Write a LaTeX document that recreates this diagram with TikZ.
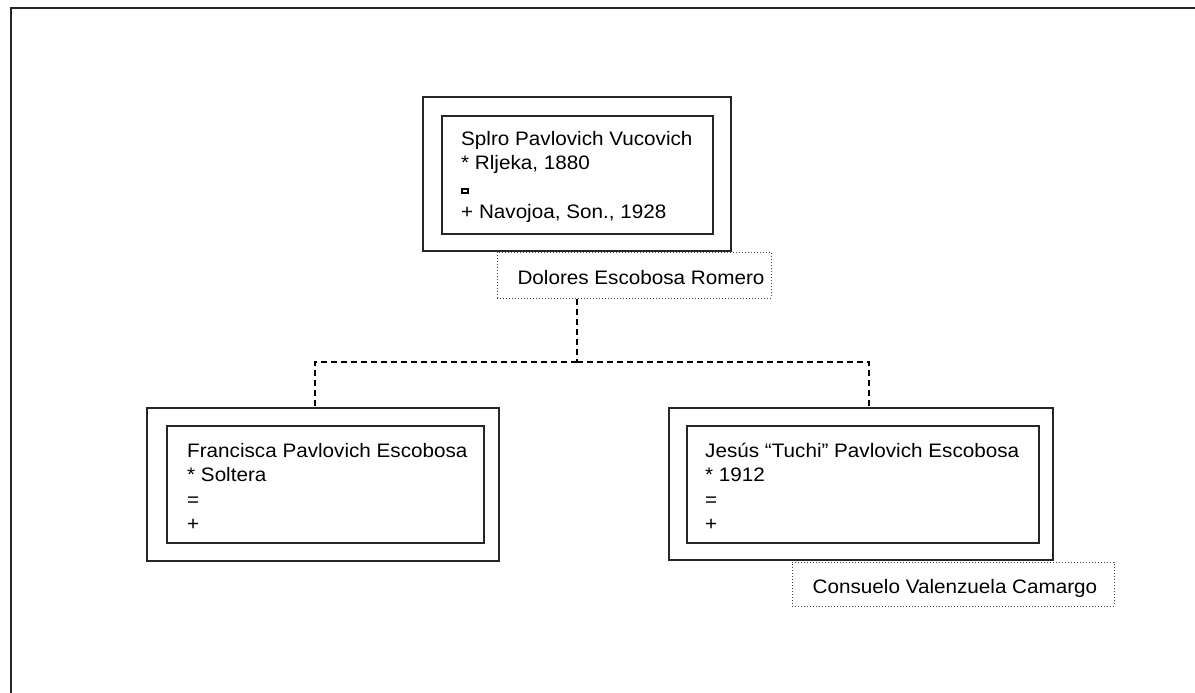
\documentclass[tikz,border=0pt]{standalone}
\usepackage{fontspec}
\setmainfont[FakeStretch=1.06]{Liberation Sans}
\usetikzlibrary{calc}

% small box used for the marriage mark
\newcommand{\wedmark}{\rule{8pt}{6.5pt}\hspace{-5.8pt}\textcolor{white}{\rule[2.2pt]{3.6pt}{2pt}}\hspace{2.2pt}}

\tikzset{
  outerbox/.style={draw=black!85, line width=1.1pt, minimum width=#1},
  innerbox/.style={draw=black!85, line width=1.1pt},
  spousebox/.style={draw=black!75, line width=1pt, dotted, inner sep=0pt},
  person/.style={anchor=west, align=left, inner sep=0pt,
                 font=\fontsize{19.5}{24.5}\selectfont},
  spouse/.style={inner sep=0pt, font=\fontsize{19.5}{21}\selectfont},
  conn/.style={draw=black, line width=1.3pt, dash pattern=on 6pt off 4pt},
  frameline/.style={draw=black!85, line width=1.3pt}
}

\begin{document}
\begin{tikzpicture}[x=1pt, y=-1pt]
  \useasboundingbox (0,0) rectangle (1195,693);

  % page frame (top and left edges)
  \draw[frameline] (11,693) -- (11,8) -- (1195,8);

  % Spiro Pavlovich Vucovich
  \node[outerbox=308pt, minimum height=154pt] (topout) at (577,174) {};
  \node[innerbox, minimum width=271pt, minimum height=118pt] (topin) at (577.5,175) {};
  \node[person] (toptxt) at (461,177)
    {Splro Pavlovich Vucovich\\* Rljeka, 1880\\\wedmark\\+ Navojoa, Son., 1928};

  % Dolores Escobosa Romero
  \node[spousebox, minimum width=274pt, minimum height=46pt] (dol) at (634,275) {};
  \node[spouse] (doltxt) at (641,278) {Dolores Escobosa Romero};

  % Francisca Pavlovich Escobosa
  \node[outerbox=352pt, minimum height=153pt] (lout) at (323,484.5) {};
  \node[innerbox, minimum width=317pt, minimum height=117pt] (lin) at (325.5,484.5) {};
  \node[person] (ltxt) at (187,487)
    {Francisca Pavlovich Escobosa\\* Soltera\\=\\+};

  % Jesús "Tuchi" Pavlovich Escobosa
  \node[outerbox=384pt, minimum height=152pt] (rout) at (861,484) {};
  \node[innerbox, minimum width=352pt, minimum height=117pt] (rin) at (863,484.5) {};
  \node[person] (rtxt) at (705,487)
    {Jesús “Tuchi” Pavlovich Escobosa\\* 1912\\=\\+};

  % Consuelo Valenzuela Camargo
  \node[spousebox, minimum width=322pt, minimum height=44pt] (con) at (953,584) {};
  \node[spouse] (contxt) at (955,588) {Consuelo Valenzuela Camargo};

  % descent lines
  \coordinate (bus) at (577,362);
  \coordinate (ldrop) at (315,362);
  \coordinate (rdrop) at (869,362);
  \draw[conn] (topout.south |- dol.south) -- (bus);
  \draw[conn] (bus) -- (ldrop) -- (ldrop |- lout.north);
  \draw[conn] (bus) -- (rdrop) -- (rdrop |- rout.north);
\end{tikzpicture}
\end{document}
